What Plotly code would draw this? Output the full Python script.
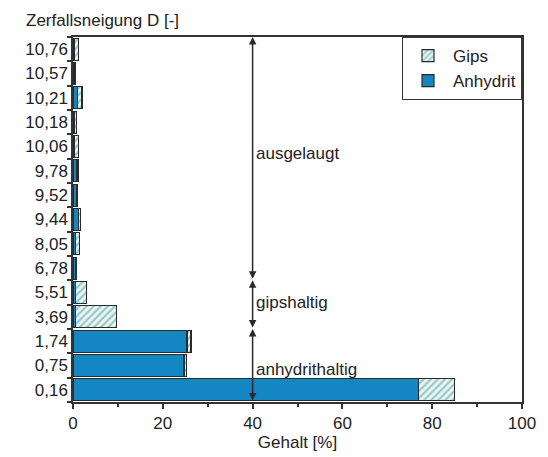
import plotly.graph_objects as go

categories = ["0,16", "0,75", "1,74", "3,69", "5,51", "6,78", "8,05", "9,44",
              "9,52", "9,78", "10,06", "10,18", "10,21", "10,57", "10,76"]
anhydrit = [77.0, 24.7, 25.4, 0.6, 0.6, 0.5, 0.5, 1.3, 0.8, 0.8, 0.4, 0.4, 1.0, 0.4, 0.4]
gips = [8.0, 0.5, 0.9, 9.1, 2.4, 0.2, 1.0, 0.3, 0.2, 0.3, 0.8, 0.3, 1.0, 0.2, 0.8]

# zone boundaries (category index) and labels
zone_edges = [-0.5, 2.5, 4.5, 14.5]
zone_labels = [("anhydrithaltig", 0.85), ("gipshaltig", 3.6), ("ausgelaugt", 9.7)]

font = "Liberation Sans"
txtcol = "#222222"
fs = 17

fig = go.Figure()
fig.add_trace(go.Bar(
    y=categories, x=anhydrit, orientation="h", name="Anhydrit",
    marker=dict(color="#1486c2", line=dict(color="#2a2a2a", width=1.2)),
))
fig.add_trace(go.Bar(
    y=categories, x=gips, orientation="h", name="Gips",
    marker=dict(color="#f4f6e4", line=dict(color="#2a2a2a", width=1.2),
                pattern=dict(shape="/", fgcolor="#2b9bd6", bgcolor="#f4f6e4",
                             size=5, solidity=0.45)),
))

fig.update_layout(
    barmode="stack", bargap=0.1,
    width=548, height=457,
    margin=dict(l=73, r=22, t=37, b=54),
    paper_bgcolor="white", plot_bgcolor="white",
    font=dict(family=font, size=fs, color=txtcol),
    showlegend=True,
    legend=dict(x=1.0, y=1.0, xanchor="right", yanchor="top",
                traceorder="reversed", bordercolor="#333", borderwidth=1,
                bgcolor="white", font=dict(size=fs, color=txtcol),
                itemwidth=40, tracegroupgap=2),
)
fig.update_xaxes(range=[0, 100], tickvals=[0, 20, 40, 60, 80, 100],
                 ticks="outside", ticklen=5, tickcolor="#333", tickwidth=1.5,
                 minor=dict(tickvals=[10, 30, 50, 70, 90], ticks="outside",
                            ticklen=3, tickcolor="#333"),
                 showline=True, linecolor="#333", linewidth=1.5, mirror=True,
                 showgrid=False, zeroline=False,
                 title=dict(text="Gehalt [%]", standoff=0,
                            font=dict(size=fs, color=txtcol)),
                 tickfont=dict(size=fs, color=txtcol))
fig.update_yaxes(type="category", categoryorder="array", categoryarray=categories,
                 range=[-0.5, 14.5], tickson="boundaries",
                 ticks="outside", ticklen=4, tickcolor="#333", tickwidth=1.5,
                 showline=True, linecolor="#333", linewidth=1.5, mirror=True,
                 showgrid=False, zeroline=False,
                 tickfont=dict(size=fs, color=txtcol))

# y-axis title at top-left
fig.add_annotation(text="Zerfallsneigung D [-]", xref="paper", yref="paper",
                   x=-0.11, y=1.015, xanchor="left", yanchor="bottom",
                   showarrow=False, font=dict(size=fs, color=txtcol))

# double arrows at 40 % for each zone
for lo, hi in zip(zone_edges[:-1], zone_edges[1:]):
    fig.add_annotation(x=40, y=hi, ax=40, ay=lo, xref="x", yref="y",
                       axref="x", ayref="y", showarrow=True, arrowhead=2,
                       arrowside="end+start", arrowwidth=1.5, arrowsize=1,
                       arrowcolor="#2a2a2a", text="")

for t, yy in zone_labels:
    fig.add_annotation(text=t, x=40, y=yy, xref="x", yref="y",
                       xanchor="left", yanchor="middle", xshift=1,
                       showarrow=False, font=dict(size=fs, color=txtcol))

fig.write_html("out.html")
